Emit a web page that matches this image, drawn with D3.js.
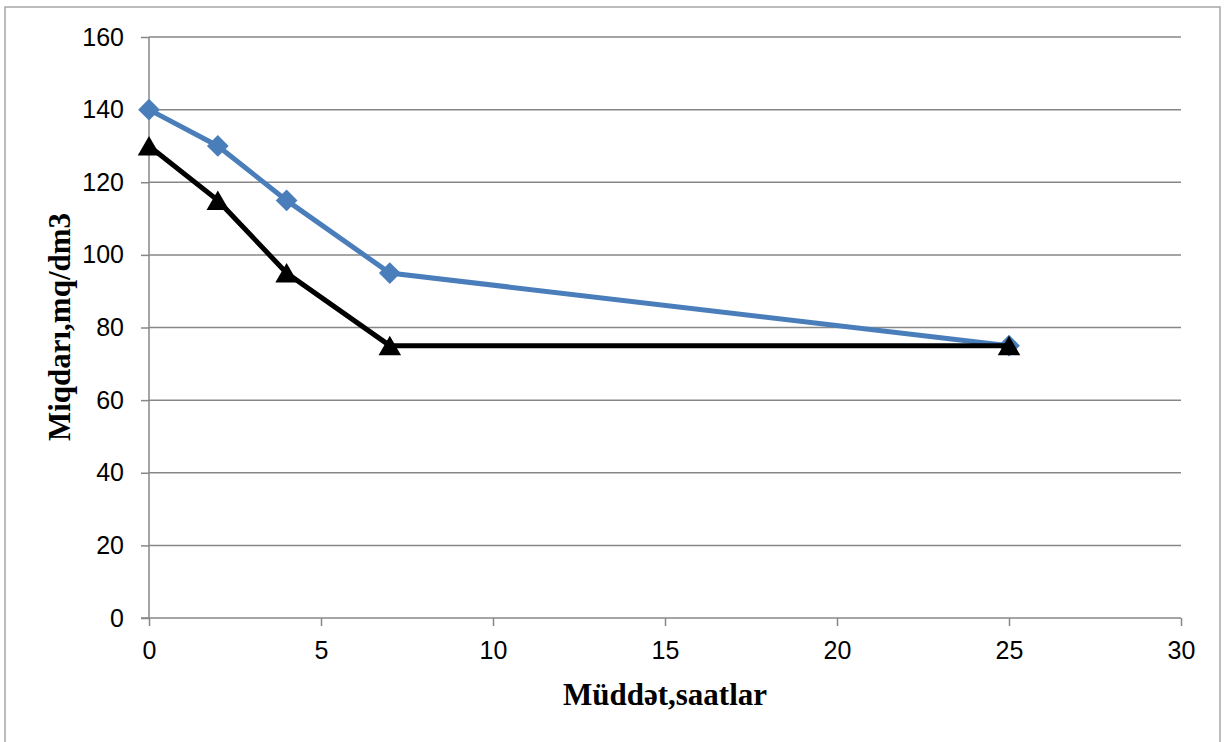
<!DOCTYPE html>
<html>
<head>
<meta charset="utf-8">
<script src="https://cdn.jsdelivr.net/npm/d3@7"></script>
<style>
  body { margin: 0; background: #fff; }
  .axis-title { font-family: "Liberation Serif", "Times New Roman", serif; font-weight: bold; font-size: 31px; fill: #000; }
</style>
</head>
<body>
<div class="chart"></div>
<script>
// data
var hours = [0, 2, 4, 7, 25];
var blueValues = [140, 130, 115, 95, 75];
var blackValues = [130, 115, 95, 75, 75];
var xTicks = [0, 5, 10, 15, 20, 25, 30];
var yTicks = [0, 20, 40, 60, 80, 100, 120, 140, 160];
var xTitle = "Müddət,saatlar";
var yTitle = "Miqdarı,mq/dm3";

var W = 1224, H = 742;
var margin = {top: 37, right: 43, bottom: 124, left: 149};
var width = W - margin.left - margin.right,
    height = H - margin.top - margin.bottom;

var svg = d3.select(".chart").append("svg")
    .attr("width", W)
    .attr("height", H);

// outer chart border
svg.append("rect")
    .attr("x", 5).attr("y", 7)
    .attr("width", 1215).attr("height", 745)
    .attr("fill", "none")
    .attr("stroke", "#a6a6a6")
    .attr("stroke-width", 1.5);

var g = svg.append("g")
    .attr("transform", "translate(" + margin.left + "," + margin.top + ")");

var x = d3.scaleLinear().domain([0, 30]).range([0, width]);
var y = d3.scaleLinear().domain([0, 160]).range([height, 0]);

// horizontal gridlines
g.append("g")
    .selectAll("line")
    .data(yTicks.filter(function(d) { return d > 0; }))
    .enter().append("line")
    .attr("x1", 0).attr("x2", width)
    .attr("y1", function(d) { return y(d); })
    .attr("y2", function(d) { return y(d); })
    .attr("stroke", "#878787")
    .attr("stroke-width", 1.5);

// axes
var yAxis = d3.axisLeft(y).tickValues(yTicks).tickSize(8).tickPadding(17);
var xAxis = d3.axisBottom(x).tickValues(xTicks).tickSize(8).tickPadding(15);

var ya = g.append("g").call(yAxis)
    .attr("font-size", 25).attr("font-family", "'Liberation Sans', Arial, sans-serif");
var xa = g.append("g").attr("transform", "translate(0," + height + ")").call(xAxis)
    .attr("font-size", 25).attr("font-family", "'Liberation Sans', Arial, sans-serif");

[ya, xa].forEach(function(a) {
    a.select(".domain").remove();
    a.selectAll(".tick line").attr("stroke", "#878787").attr("stroke-width", 1.5);
    a.selectAll(".tick text").attr("fill", "#000");
});
ya.append("line").attr("y1", 0).attr("y2", height)
    .attr("stroke", "#878787").attr("stroke-width", 1.5);
xa.append("line").attr("x1", -8).attr("x2", width)
    .attr("stroke", "#878787").attr("stroke-width", 1.5);

// series
var blueData = hours.map(function(h, i) { return {h: h, v: blueValues[i]}; });
var blackData = hours.map(function(h, i) { return {h: h, v: blackValues[i]}; });

var line = d3.line()
    .x(function(d) { return x(d.h); })
    .y(function(d) { return y(d.v); });

g.append("path")
    .datum(blueData)
    .attr("d", line)
    .attr("fill", "none")
    .attr("stroke", "#4a7ebb")
    .attr("stroke-width", 5);

g.append("g").selectAll("path")
    .data(blueData)
    .enter().append("path")
    .attr("transform", function(d) { return "translate(" + x(d.h) + "," + y(d.v) + ")"; })
    .attr("d", d3.symbol().type(d3.symbolDiamond2).size(300))
    .attr("fill", "#4a7ebb");

g.append("path")
    .datum(blackData)
    .attr("d", line)
    .attr("fill", "none")
    .attr("stroke", "#000")
    .attr("stroke-width", 5);

g.append("g").selectAll("path")
    .data(blackData)
    .enter().append("path")
    .attr("transform", function(d) { return "translate(" + x(d.h) + "," + (y(d.v) + 3) + ")"; })
    .attr("d", d3.symbol().type(d3.symbolTriangle).size(220))
    .attr("fill", "#000");

// axis titles
svg.append("text")
    .attr("class", "axis-title")
    .attr("x", 665).attr("y", 705)
    .attr("text-anchor", "middle")
    .text(xTitle);

svg.append("text")
    .attr("class", "axis-title")
    .attr("transform", "translate(70,327) rotate(-90)")
    .attr("text-anchor", "middle")
    .text(yTitle);
</script>
</body>
</html>
